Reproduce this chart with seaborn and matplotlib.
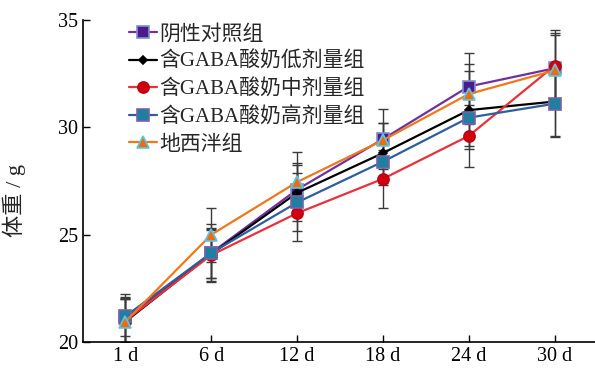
import numpy as np
import pandas as pd
import matplotlib
matplotlib.use("Agg")
import matplotlib.pyplot as plt
import seaborn as sns

days = ["1 d", "6 d", "12 d", "18 d", "24 d", "30 d"]
groups = ["阴性对照组", "含GABA酸奶低剂量组", "含GABA酸奶中剂量组", "含GABA酸奶高剂量组", "地西泮组"]

neg_mean = [21.1, 24.15, 27.1, 29.45, 31.9, 32.75]
low_mean = [20.95, 24.1, 26.95, 28.8, 30.8, 31.2]
mid_mean = [21.0, 24.05, 26.0, 27.6, 29.6, 32.87]
high_mean = [21.2, 24.15, 26.5, 28.4, 30.45, 31.1]
dex_mean = [20.95, 25.0, 27.45, 29.4, 31.55, 32.65]

neg_sd = [1.15, 1.15, 1.25, 1.4, 1.55, 1.65]
low_sd = [1.1, 1.1, 1.3, 1.4, 1.8, 1.6]
mid_sd = [1.0, 1.2, 1.3, 1.35, 1.45, 1.65]
high_sd = [0.9, 1.35, 1.35, 1.1, 1.3, 1.55]
dex_sd = [1.05, 1.25, 1.4, 0.8, 1.4, 1.65]

means = [neg_mean, low_mean, mid_mean, high_mean, dex_mean]
sds = [neg_sd, low_sd, mid_sd, high_sd, dex_sd]

# line colour, marker, marker face, marker edge, marker size
styles = [
    ("#7030A0", "s", "#4B1A8C", "#7F8FD0", 8),
    ("#000000", "D", "#000000", "#000000", 4.5),
    ("#E8313A", "o", "#D00010", "#C00010", 8),
    ("#2E5E9E", "s", "#1F7FA0", "#7A62A8", 8),
    ("#F07818", "^", "#F06A10", "#55C8E6", 8.5),
]

rows = []
for g, m, s in zip(groups, means, sds):
    for d, v, e in zip(days, m, s):
        rows.append({"day": d, "group": g, "weight": v, "sd": e})
df = pd.DataFrame(rows)
df["day"] = pd.Categorical(df["day"], categories=days, ordered=True)

sns.set_style("ticks")
plt.rcParams["font.family"] = ["Liberation Serif", "Noto Sans CJK SC"]

fig = plt.figure(figsize=(5.95, 3.69), dpi=100)
ax = fig.add_axes([0.14, 0.073, 0.86, 0.873])

pos = np.arange(len(days))
for g, (lc, mk, mf, me, ms) in zip(groups, styles):
    sub = df[df["group"] == g]
    ax.errorbar(pos, sub["weight"], yerr=sub["sd"], fmt="none", ecolor="#3a3a3a",
                elinewidth=1, capsize=3.5, capthick=1, zorder=1)

for g, (lc, mk, mf, me, ms) in zip(groups, styles):
    sub = df[df["group"] == g]
    sns.lineplot(data=sub, x="day", y="weight", ax=ax, color=lc, linewidth=1.6,
                 marker=mk, markersize=ms, markerfacecolor=mf, markeredgecolor=me,
                 markeredgewidth=1.2, label=g, zorder=3)

ax.set_xlim(-0.49, 5.47)
ax.set_ylim(20, 35)
ax.set_yticks([20, 25, 30, 35])
ax.set_xticks(pos)
ax.set_xticklabels(days)
ax.set_xlabel("")
ax.set_ylabel("体重 / g", fontsize=16)
ax.yaxis.set_label_coords(-0.112, 0.44)
ax.tick_params(direction="in", length=5, width=1, labelsize=14.5, colors="#000000")
sns.despine(ax=ax)
for sp in ["left", "bottom"]:
    ax.spines[sp].set_linewidth(1.2)
    ax.spines[sp].set_color("#000000")

ax.legend(loc="upper left", bbox_to_anchor=(0.064, 1.025), frameon=False, fontsize=15,
          borderpad=0.1, labelspacing=0.37, handlelength=1.35, handletextpad=0.12)

fig.savefig("out.png", dpi=100)
